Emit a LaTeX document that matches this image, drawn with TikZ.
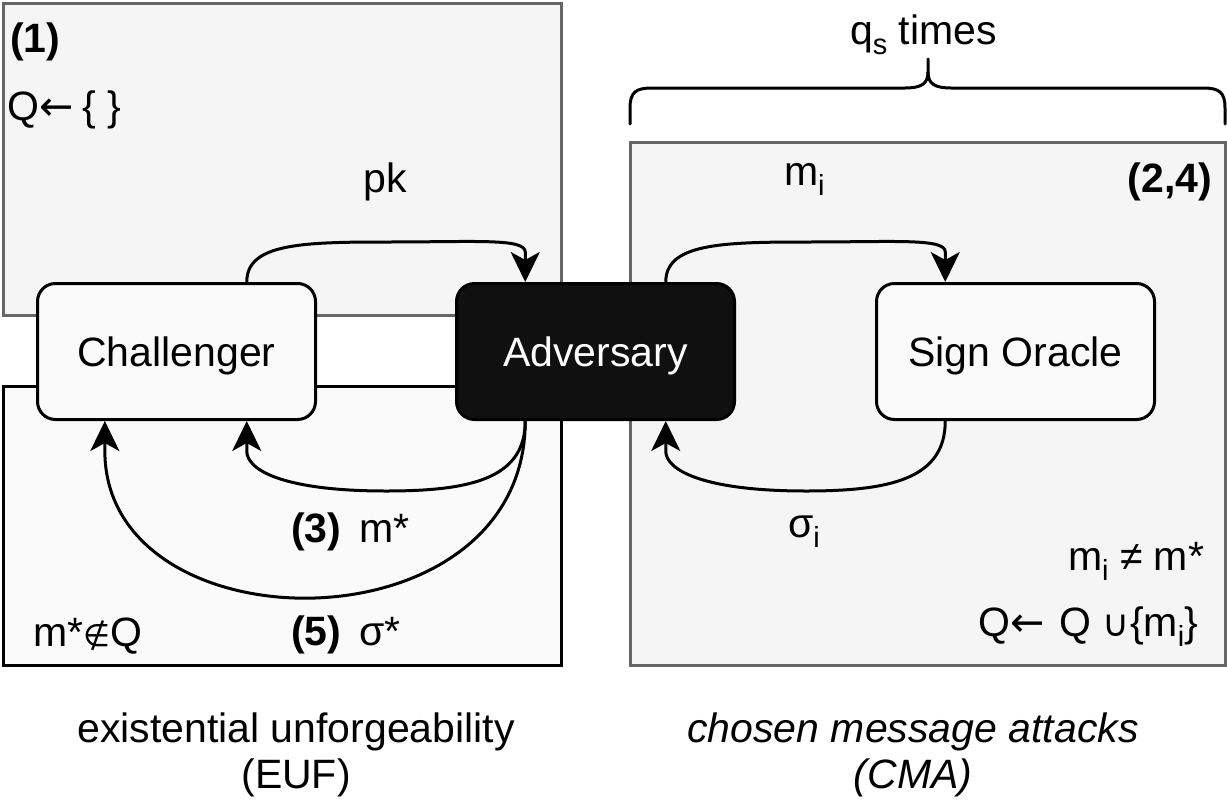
\documentclass[tikz,border=0pt]{standalone}
\usepackage{fontspec}
\setmainfont{Liberation Sans}
\newfontfamily\djv{DejaVu Sans}
\usetikzlibrary{arrows.meta,calc}
\definecolor{frameg}{HTML}{666666}
\definecolor{fillg}{HTML}{F5F5F5}
\definecolor{filll}{HTML}{FAFAFA}
\definecolor{advfill}{HTML}{101010}
\newcommand\sbs[1]{\raisebox{-10pt}{\fontsize{29}{30}\selectfont #1}}
\newcommand\djvs[2]{{\djv\fontsize{#1}{#1}\selectfont #2}}
\begin{document}
\begin{tikzpicture}[x=1pt,y=-1pt,
  lbl/.style={font=\fontsize{41}{49}\selectfont, inner sep=0pt, outer sep=0pt},
  grayframe/.style={draw=frameg, line width=3pt, fill=fillg},
  blackframe/.style={draw=black, line width=3pt, fill=filll},
  actor/.style={draw=black, line width=3pt, rounded corners=18pt, fill=filll,
    minimum width=278pt, minimum height=136pt, inner sep=0pt,
    font=\fontsize{41}{49}\selectfont, text height=29.4pt, text depth=0pt},
  conn/.style={line width=3pt, -{Stealth[length=30pt,width=29pt,inset=8pt]}},
  bracepath/.style={line width=3pt, line cap=round}
]
\useasboundingbox (0,0) rectangle (1227,801);

% frames
\path[grayframe] (3,3) rectangle (561,315);
\path[blackframe] (3,386) rectangle (561,665);
\path[grayframe] (630,142) rectangle (1225,665);

% brace
\draw[bracepath] (630,124) -- (630,108) .. controls (630,92) and (636,88) .. (652,88)
  -- (905,88) .. controls (921,88) and (928,84) .. (928,72) -- (928,59);
\draw[bracepath] (928,72) .. controls (928,84) and (935,88) .. (951,88)
  -- (1203,88) .. controls (1219,88) and (1225,92) .. (1225,108) -- (1225,124);
\node[lbl, anchor=base west] (qs) at (850,44) {q\sbs{s} times};

% actors
\node[actor] (ch) at (176.5,351.5) {Challenger};
\node[actor, fill=advfill, text=white] (ad) at (595.5,351.5) {Adversary};
\node[actor] (so) at (1015.5,351.5) {Sign Oracle};

% attachment points, arrow bases and curve apexes
\coordinate (chT) at ($(ch.north west)!0.75!(ch.north east)$);
\coordinate (chBR) at ($(ch.south west)!0.75!(ch.south east)$);
\coordinate (chBL) at ($(ch.south west)!0.245!(ch.south east)$);
\coordinate (adTL) at ($(ad.north west)!0.25!(ad.north east)$);
\coordinate (adTR) at ($(ad.north west)!0.75!(ad.north east)$);
\coordinate (adBL) at ($(ad.south west)!0.25!(ad.south east)$);
\coordinate (adBR) at ($(ad.south west)!0.75!(ad.south east)$);
\coordinate (soT) at ($(so.north west)!0.25!(so.north east)$);
\coordinate (soB) at ($(so.south west)!0.25!(so.south east)$);
\coordinate (adTLa) at ($(adTL)+(0,-30)$);
\coordinate (soTa) at ($(soT)+(0,-30)$);
\coordinate (adBRa) at ($(adBR)+(0,30)$);
\coordinate (chBRa) at ($(chBR)+(0,30)$);
\coordinate (chBLa) at ($(chBL)+(0,30)$);
\coordinate (pkTop) at (386,242);
\coordinate (miTop) at (806,242);
\coordinate (siBot) at (806,491);
\coordinate (msBot) at (386,491);

% connectors
\draw[conn] (chT) .. controls +(0,-38) and +(-86,0) .. (pkTop)
  .. controls +(90,0) and +(0,-14) .. (adTLa) -- (adTL);
\draw[conn] (adTR) .. controls +(0,-38) and +(-86,0) .. (miTop)
  .. controls +(90,0) and +(0,-14) .. (soTa) -- (soT);
\draw[conn] (soB) .. controls +(0,58) and +(84,0) .. (siBot)
  .. controls +(-100,0) and +(0,20) .. (adBRa) -- (adBR);
\draw[conn] (adBL) .. controls +(0,58) and +(84,0) .. (msBot)
  .. controls +(-100,0) and +(0,20) .. (chBRa) -- (chBR);
\draw[conn] (adBL) .. controls +(0,232) and +(0,200) .. (chBLa) -- (chBL);

% labels
\node[lbl, anchor=base west] (l1) at (10,52) {\bfseries (1)};
\node[lbl, anchor=base west] (q0) at (8,120) {Q{\djv ←}\hspace{8pt}\{ \}};
\node[lbl, anchor=base] (pk) at (385,192) {pk};
\node[lbl, anchor=base west] (mi) at (784,185) {m\sbs{i}};
\node[lbl, anchor=base east] (l24) at (1212,192) {\bfseries (2,4)};
\node[lbl, anchor=base west] (si) at (788,537) {σ\sbs{i}};
\node[lbl, anchor=base east] (neq) at (1204,570) {m\sbs{i} ≠ m*};
\node[lbl, anchor=base east] (qu) at (1198,636) {Q{\djv ←}\hspace{14pt}Q\hspace{12pt}\djvs{37}{∪}\{m\sbs{i}\}};
\node[lbl, anchor=base west] (l3) at (291,542) {{\bfseries (3)}\hspace{18pt}m*};
\node[lbl, anchor=base west] (l5) at (291,645) {{\bfseries (5)}\hspace{18pt}σ*};
\node[lbl, anchor=base west] (nin) at (33,646) {m*\djvs{31}{∉}Q};
\node[lbl, anchor=base] (euf1) at (296,742) {existential unforgeability};
\node[lbl, anchor=base] (euf2) at (296,788) {(EUF)};
\node[lbl, anchor=base] (cma1) at (913,742) {\itshape chosen message attacks};
\node[lbl, anchor=base] (cma2) at (913,788) {\itshape (CMA)};
\end{tikzpicture}
\end{document}
